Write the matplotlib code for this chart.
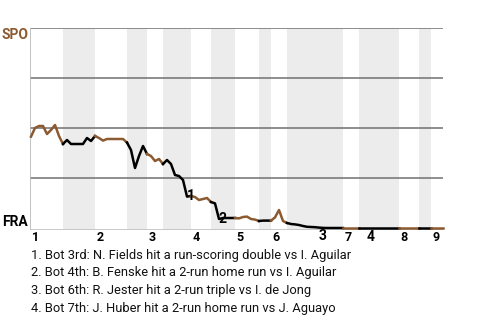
import matplotlib
matplotlib.use("Agg")
import matplotlib.pyplot as plt
import matplotlib.transforms as mtransforms

plt.rcParams['font.family'] = ['Roboto', 'DejaVu Sans']

# Win probability for SPO (percent) after each plate appearance
wp = [45.7, 50, 51, 51, 47, 49, 51.5, 46,
      42, 44, 42, 42, 42, 42, 45, 43.5,
      46, 45, 43.7, 44.5, 44.5, 44.5, 44.5, 44.5,
      42.7, 39, 30, 36, 41,
      37, 36, 33.5, 34.5,
      32, 34, 32, 26.5, 26, 24, 15.7,
      16, 15.5, 14, 14.5, 15,
      13, 12.3, 4.5, 5, 5, 5,
      5, 4.8, 5.5, 5.7, 4.5, 4.2,
      3.5, 3.7, 3.7,
      3.7, 5.3, 9, 3.5,
      2.5, 2, 1.8, 1.5, 1, 0.6, 0.5, 0.4, 0.2, 0.05, 0, 0, 0, 0,
      0, 0, 0, 0,
      0, 0, 0, 0, 0, 0, 0, 0, 0, 0,
      0, 0, 0, 0, 0,
      0, 0, 0,
      0, 0, 0, 0]

# start index of each half inning (top 1st, bottom 1st, ...), last is end
half_starts = [0, 8, 16, 24, 29, 33, 40, 45, 51, 57, 60, 64, 78, 82, 92, 97, 100, 103]
inning_labels = ['1', '2', '3', '4', '5', '6', '7', '8', '9']

events = ['1', '2', '3', '4']
event_x = [39.9, 47.9, 73, 85]
event_y = [16, 4.5, -4, -4.5]

captions = [
    "1. Bot 3rd: N. Fields hit a run-scoring double vs I. Aguilar",
    "2. Bot 4th: B. Fenske hit a 2-run home run vs I. Aguilar",
    "3. Bot 6th: R. Jester hit a 2-run triple vs I. de Jong",
    "4. Bot 7th: J. Huber hit a 2-run home run vs J. Aguayo",
]

BROWN = '#8c5a30'
W, H = 480, 320
fig = plt.figure(figsize=(4.8, 3.2), dpi=100)
x0, x1, ytop, ybot = 30, 443, 28, 230
ax = fig.add_axes([x0 / W, 1 - ybot / H, (x1 - x0) / W, (ybot - ytop) / H])
ax.set_xlim(-0.25, 103)
ax.set_ylim(-1, 100)
ax.axis('off')

# shaded bottom halves
for k in range(1, len(half_starts) - 1, 2):
    ax.axvspan(half_starts[k], half_starts[k + 1], color='#ececec', lw=0, zorder=0)

for g in [25, 50, 75, 100]:
    ax.axhline(g, color='#7a7a7a', lw=1.2, zorder=1)
ax.axhline(-1, color='#c0c0c0', lw=1.2, zorder=1)
ax.axvline(-0.25, color='#b8b8b8', lw=1.2, zorder=1)

xs = list(range(len(wp)))
for k in range(len(half_starts) - 1):
    a, b = half_starts[k], half_starts[k + 1]
    col = BROWN if k % 2 == 0 else 'black'
    ax.plot(xs[a:b + 1], wp[a:b + 1], color=col, lw=1.8, zorder=3,
            solid_joinstyle='round', clip_on=False)

tr = mtransforms.blended_transform_factory(ax.transData, fig.transFigure)
for i, lab in enumerate(inning_labels):
    ax.text(half_starts[2 * i] + 0.3, 1 - 237.5 / H, lab, transform=tr,
            ha='left', va='center', fontsize=9, fontweight='bold', color='black')

for lab, ex, ey in zip(events, event_x, event_y):
    ax.text(ex, ey, lab, ha='center', va='center', fontsize=10,
            fontweight='bold', color='black', zorder=4, clip_on=False)

fig.text(2 / W, 1 - 35 / H, 'SPO', ha='left', va='center', fontsize=10,
         fontweight='bold', color=BROWN)
fig.text(2 / W, 1 - 221.5 / H, 'FRA', ha='left', va='center', fontsize=10,
         fontweight='bold', color='black')

for j, c in enumerate(captions):
    fig.text(31 / W, 1 - (255 + 17.7 * j) / H, c, ha='left', va='center',
             fontsize=9.3, color='#111111')

fig.savefig('out.png', dpi=100)
